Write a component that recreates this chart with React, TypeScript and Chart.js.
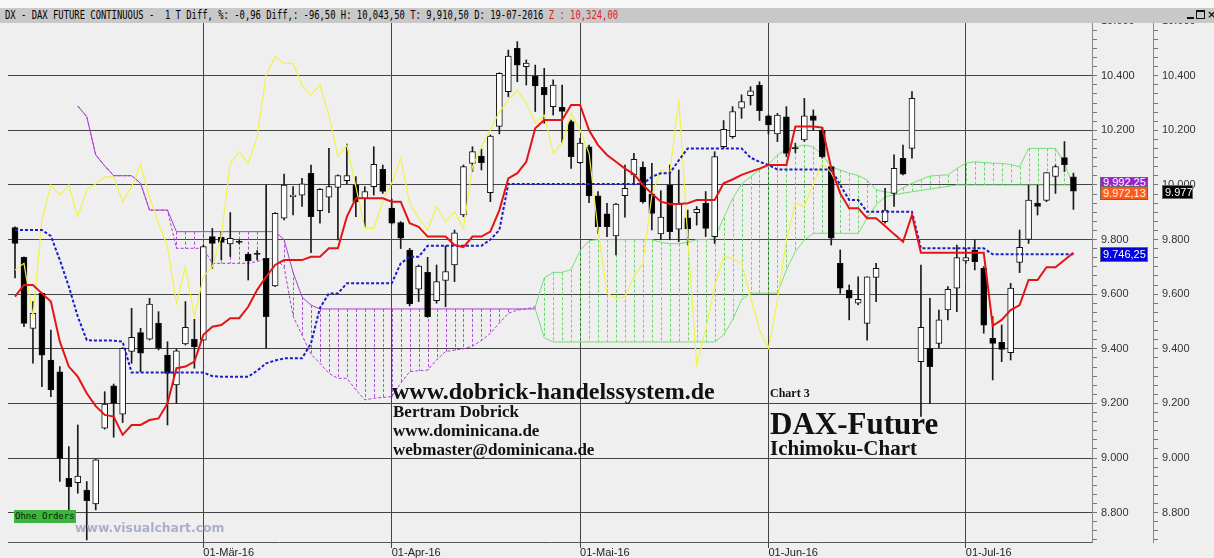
import React, { useEffect, useRef } from 'react';
import { Chart, registerables } from 'chart.js';

Chart.register(...registerables);

// ---- axis labels ----
const dateTickIdx = [21, 42, 63, 84, 106];
const dateTickLabels = ['01-Mär-16', '01-Apr-16', '01-Mai-16', '01-Jun-16', '01-Jul-16'];
const priceTicks = [8800, 9000, 9200, 9400, 9600, 9800, 10000, 10200, 10400, 10600];

// ---- daily candles (index 0 = 01-Feb-16 ... index 118 = 19-Jul-16) ----
const opens = [
  9844, 9735, 9475, 9603, 9359, 9316, 8926, 8910, 8883, 8832,
  9109, 9264, 9161, 9390, 9459, 9435, 9493, 9377, 9268, 9418,
  9435, 9432, 9811, 9808, 9784, 9791, 9747, 9749, 9731, 9630,
  9878, 9957, 9963, 10043, 9906, 9955, 9991, 10016, 10000, 9951,
  9994, 10057, 9915, 9862, 9762, 9618, 9680, 9576, 9650, 9707,
  9890, 10079, 10106, 9972, 10214, 10342, 10500, 10433, 10399, 10358,
  10287, 10284, 10232, 10082, 10140, 9960, 9894, 9813, 9961, 10037,
  10065, 9967, 9821, 10000, 9838, 9880, 9899, 9933, 9811, 10140,
  10177, 10281, 10327, 10366, 10253, 10187, 10250, 10135, 10165, 10253,
  10201, 10067, 9713, 9615, 9567, 9493, 9661, 9866, 9969, 10098,
  10134, 9353, 9402, 9420, 9542, 9622, 9722, 9762, 9695, 9438,
  9424, 9386, 9716, 9801, 9933, 9943, 10031, 10100, 10030,
];
const highs = [
  9847, 9737, 9573, 9605, 9469, 9335, 9042, 9121, 8914, 8995,
  9243, 9271, 9404, 9548, 9475, 9585, 9536, 9426, 9398, 9573,
  9508, 9780, 9841, 9829, 9899, 9799, 9752, 9760, 10000, 9899,
  10040, 9994, 10024, 10073, 9987, 10134, 10037, 10150, 10031, 9994,
  10140, 10073, 9948, 9866, 9768, 9707, 9735, 9707, 9777, 9835,
  10073, 10140, 10131, 10183, 10411, 10494, 10525, 10458, 10439, 10427,
  10385, 10366, 10238, 10171, 10146, 9976, 9933, 9933, 10073, 10116,
  10085, 10079, 9979, 10073, 10055, 9908, 9921, 9976, 10122, 10236,
  10287, 10330, 10360, 10378, 10256, 10262, 10287, 10153, 10317, 10275,
  10211, 10067, 9762, 9634, 9664, 9664, 9713, 9988, 10110, 10146,
  10342, 9707, 9585, 9542, 9628, 9780, 9768, 9799, 9701, 9518,
  9487, 9640, 9835, 10000, 10000, 10045, 10073, 10159, 10043.5,
];
const lows = [
  9660, 9481, 9347, 9261, 9225, 8914, 8810, 8871, 8700, 8810,
  9106, 9076, 9130, 9347, 9316, 9432, 9396, 9121, 9200, 9414,
  9329, 9430, 9695, 9725, 9738, 9784, 9652, 9725, 9402, 9628,
  9872, 9890, 9921, 9752, 9860, 9899, 9799, 10004, 9884, 9847,
  9963, 9969, 9857, 9767, 9557, 9573, 9515, 9567, 9554, 9646,
  9884, 10049, 10055, 9939, 10187, 10323, 10378, 10366, 10269, 10226,
  10256, 10155, 10061, 10079, 9935, 9823, 9811, 9744, 9882, 10000,
  9933, 9835, 9799, 9799, 9792, 9780, 9853, 9811, 9786, 10134,
  10171, 10244, 10293, 10236, 10187, 10159, 10104, 10118, 10159, 10201,
  10098, 9780, 9603, 9506, 9561, 9432, 9573, 9860, 9921, 10037,
  10098, 9152, 9200, 9402, 9506, 9536, 9713, 9689, 9457, 9286,
  9353, 9359, 9679, 9786, 9890, 9939, 9969, 10049, 9910.5,
];
const closes = [
  9786, 9493, 9530, 9377, 9249, 8999, 8895, 8934, 8844, 8993,
  9198, 9200, 9402, 9442, 9384, 9564, 9402, 9310, 9393, 9479,
  9408, 9774, 9786, 9790, 9805, 9790, 9722, 9746, 9518, 9896,
  10000, 9963, 10004, 9884, 9984, 9994, 10034, 10034, 9939, 9976,
  10076, 9976, 9860, 9805, 9564, 9703, 9518, 9646, 9683, 9825,
  10067, 10122, 10082, 10179, 10409, 10472, 10439, 10446, 10363, 10330,
  10366, 10269, 10104, 10153, 9960, 9847, 9847, 9930, 9988, 10094,
  9939, 9896, 9882, 9829, 9930, 9839, 9911, 9841, 10104, 10204,
  10269, 10305, 10345, 10272, 10220, 10256, 10116, 10133, 10253, 10236,
  10104, 9805, 9622, 9585, 9581, 9664, 9695, 9908, 10061, 10040,
  10317, 9479, 9335, 9506, 9618, 9734, 9734, 9719, 9487, 9420,
  9398, 9622, 9772, 9945, 9921, 10045, 10067, 10074, 9977,
];

// ---- Ichimoku lines ----
const tenkan = [
  9591, 9634, 9634, 9603, 9573, 9426, 9335, 9298, 9237, 9190,
  9158, 9152, 9085, 9121, 9121, 9139, 9145, 9200, 9329, 9335,
  9353, 9451, 9481, 9487, 9512, 9512, 9554, 9616, 9664, 9707,
  9725, 9725, 9725, 9737, 9737, 9768, 9768, 9884, 9951, 9951,
  9951, 9951, 9939, 9939, 9860, 9847, 9811, 9811, 9811, 9780,
  9772, 9811, 9811, 9829, 9908, 10024, 10043, 10085, 10208, 10238,
  10238, 10238, 10293, 10293, 10200, 10146, 10110, 10085, 10060, 10040,
  10000, 9969, 9939, 9930, 9930, 9933, 9945, 9945, 9945, 10006,
  10020, 10037, 10049, 10060, 10073, 10073, 10073, 10214, 10214, 10214,
  10210, 10061, 9969, 9915, 9915, 9878, 9878, 9850, 9820, 9792,
  9890, 9752, 9752, 9752, 9752, 9752, 9752, 9752, 9752, 9484,
  9506, 9542, 9560, 9652, 9652, 9699, 9699, 9725, 9752,
];
const kijun = [
  9835, 9835, 9835, 9835, 9813, 9725, 9628, 9518, 9432, 9430,
  9430, 9430, 9426, 9313, 9313, 9313, 9313, 9313, 9313, 9313,
  9313, 9313, 9300, 9298, 9298, 9298, 9298, 9320, 9347, 9357,
  9365, 9365, 9365, 9420, 9550, 9603, 9603, 9640, 9640, 9640,
  9640, 9640, 9640, 9713, 9737, 9737, 9777, 9777, 9777, 9777,
  9777, 9777, 9777, 9800, 9835, 10004, 10004, 10004, 10004, 10004,
  10004, 10004, 10004, 10004, 10004, 10004, 10004, 10004, 10004, 10004,
  10004, 10030, 10043, 10043, 10090, 10134, 10134, 10134, 10134, 10134,
  10134, 10134, 10100, 10085, 10073, 10057, 10057, 10057, 10057, 10057,
  10057, 10057, 10000, 9945, 9945, 9902, 9902, 9902, 9902, 9902,
  9902, 9768, 9768, 9768, 9768, 9768, 9768, 9768, 9768, 9746,
  9746, 9746, 9746, 9746, 9746, 9746, 9746, 9746, 9746,
];
const chikou = [
  9689, 9713, 9518, 9872, 10000, 9963, 10000, 9884, 9982, 10004,
  10030, 10030, 9939, 9994, 10073, 9957, 9860, 9774, 9567, 9701,
  9518, 9664, 9701, 9811, 10079, 10122, 10079, 10177, 10403, 10470,
  10445, 10445, 10366, 10330, 10366, 10256, 10104, 10146, 9994, 9841,
  9841, 9939, 10006, 10098, 9933, 9880, 9835, 9921, 9866, 9902,
  9841, 10067, 10140, 10201, 10268, 10311, 10348, 10299, 10226, 10256,
  10116, 10153, 10262, 10201, 10116, 9835, 9603, 9585, 9591, 9664,
  9713, 9963, 10055, 10043, 10311, 9811, 9341, 9469, 9628, 9737,
  9731, 9713, 9591, 9469, 9402, 9579, 9799, 9933, 9921, 10006,
  10079, 10045, 9977,
];
const spanA = [
  null, null, null, null, null, null, null, 10289, 10250, 10110,
  10070, 10034, 10034, 10034, 10006, 9908, 9908, 9908, 9768, 9768,
  9768, 9768, 9713, 9713, 9713, 9713, 9713, 9720, 9730, 9730,
  9700, 9520, 9450, 9380, 9347, 9310, 9292, 9292, 9250, 9213,
  9219, 9222, 9225, 9274, 9316, 9320, 9322, 9360, 9390, 9395,
  9400, 9410, 9430, 9457, 9494, 9530, 9542, 9546, 9554, 9660,
  9680, 9680, 9690, 9760, 9796, 9800, 9800, 9800, 9800, 9800,
  9800, 9800, 9790, 9785, 9785, 9790, 9800, 9800, 9803, 9880,
  9950, 10004, 10030, 10055, 10075, 10110, 10130, 10140, 10146, 10140,
  10110, 10067, 10055, 10043, 10035, 10018, 9982, 9975, 9969, 9990,
  10006, 10020, 10033, 10035, 10037, 10060, 10080, 10085, 10082, 10080,
  10079, 10075, 10067, 10134, 10134, 10134, 10134, 10079, 9992,
];
const spanB = [
  null, null, null, null, null, null, null, 10289, 10250, 10110,
  10070, 10034, 10034, 10034, 10006, 9908, 9908, 9908, 9829, 9829,
  9829, 9829, 9829, 9829, 9829, 9829, 9829, 9829, 9829, 9829,
  9800, 9680, 9590, 9560, 9546, 9546, 9546, 9546, 9546, 9546,
  9546, 9546, 9546, 9546, 9546, 9546, 9546, 9546, 9546, 9546,
  9546, 9546, 9546, 9546, 9546, 9546, 9546, 9546, 9546, 9440,
  9425, 9425, 9425, 9425, 9425, 9425, 9425, 9425, 9425, 9425,
  9425, 9425, 9425, 9425, 9425, 9425, 9425, 9425, 9425, 9451,
  9506, 9580, 9604, 9604, 9604, 9604, 9689, 9756, 9799, 9823,
  9823, 9823, 9823, 9823, 9823, 9878, 9927, 9957, 9963, 9970,
  9975, 9980, 9985, 9990, 9995, 10000, 10000, 10000, 10000, 10000,
  10000, 10000, 10000, 10000, 10000, 10000, 10000, 10000, 10000,
];

// ---- styles ----
const PURPLE_LINE = '#a83fcc';
const GREEN_LINE = '#74e074';
const PURPLE_HATCH = '#b24fd8';
const GREEN_HATCH = '#66d866';
const GRID = '#444444';
const TICK_FONT = { family: '"Liberation Sans", Arial, sans-serif', size: 11 };

const isBear = (i: number) => spanA[i] != null && spanB[i] != null && (spanB[i] as number) >= (spanA[i] as number);
const isMajor = (v: number) => Math.abs(v - Math.round(v / 200) * 200) < 0.5;
const fmtPrice = (v: number) => {
  if (!isMajor(v)) return '';
  const r = Math.round(v);
  return `${Math.floor(r / 1000)}.${String(r % 1000).padStart(3, '0')}`;
};
const buildPriceTicks = (s: any) => {
  const step = (priceTicks[1] - priceTicks[0]) / 6;
  const out: any[] = [];
  for (let v = priceTicks[0] - 3 * step; v <= priceTicks[priceTicks.length - 1] + 0.01; v += step) {
    if (v >= s.min - 0.01 && v <= s.max + 0.01) out.push({ value: v });
  }
  s.ticks = out;
};

const hatchPlugin = {
  id: 'cloudHatch',
  beforeDatasetsDraw(chart: any) {
    const { ctx, chartArea, scales } = chart;
    const x = scales.x;
    const y = scales.y;
    ctx.save();
    ctx.beginPath();
    ctx.rect(chartArea.left, chartArea.top, chartArea.width, chartArea.height);
    ctx.clip();
    ctx.lineWidth = 1;
    ctx.setLineDash([3, 2]);
    for (let i = 0; i < spanA.length; i++) {
      const a = spanA[i];
      const b = spanB[i];
      if (a == null || b == null || a === b) continue;
      const px = Math.round(x.getPixelForValue(i)) + 0.5;
      ctx.strokeStyle = b >= a ? PURPLE_HATCH : GREEN_HATCH;
      ctx.beginPath();
      ctx.moveTo(px, y.getPixelForValue(Math.max(a, b)));
      ctx.lineTo(px, y.getPixelForValue(Math.min(a, b)));
      ctx.stroke();
    }
    ctx.restore();
  },
};

const yAxis = (onChart: boolean) => ({
  type: 'linear',
  position: 'right',
  min: 8692.5,
  max: 10600.5,
  afterBuildTicks: buildPriceTicks,
  afterFit: (s: any) => {
    s.width = 61;
  },
  ticks: {
    autoSkip: false,
    callback: (v: any) => fmtPrice(Number(v)),
    color: '#333',
    font: TICK_FONT,
    padding: 4,
  },
  grid: {
    drawOnChartArea: onChart,
    offset: false,
    color: (c: any) => (c.tick && isMajor(c.tick.value) ? GRID : 'rgba(0,0,0,0)'),
    tickColor: '#777',
    tickLength: 5,
    lineWidth: 1,
  },
  border: { display: true, color: '#888' },
});

export default function App() {
  const ref = useRef<HTMLCanvasElement>(null);

  useEffect(() => {
    const idx = closes.map((_, i) => i);
    const chart = new Chart(ref.current as HTMLCanvasElement, {
      type: 'line',
      data: {
        datasets: [
          {
            type: 'line',
            label: 'Senkou Span B',
            data: spanB.map((v, i) => ({ x: i, y: v })),
            borderColor: GREEN_LINE,
            borderWidth: 1,
            pointRadius: 0,
            segment: {
              borderColor: (c: any) => (isBear(c.p0DataIndex) ? PURPLE_LINE : GREEN_LINE),
            },
            order: 10,
          },
          {
            type: 'line',
            label: 'Senkou Span A',
            data: spanA.map((v, i) => ({ x: i, y: v })),
            borderColor: GREEN_LINE,
            borderWidth: 1,
            pointRadius: 0,
            segment: {
              borderColor: (c: any) => (isBear(c.p0DataIndex) ? PURPLE_LINE : GREEN_LINE),
              borderDash: (c: any) => (isBear(c.p0DataIndex) ? [3, 2] : []),
            },
            order: 9,
          },
          {
            type: 'bar',
            label: 'wick',
            data: idx.map((i) => ({ x: i, y: [lows[i], highs[i]] })),
            backgroundColor: '#1a1a1a',
            borderWidth: 0,
            barThickness: 1,
            grouped: false,
            order: 6,
          },
          {
            type: 'bar',
            label: 'body',
            data: idx.map((i) => ({ x: i, y: [opens[i], closes[i]] })),
            backgroundColor: idx.map((i) => (closes[i] >= opens[i] ? '#ffffff' : '#000000')),
            borderColor: '#111',
            borderWidth: 1,
            borderSkipped: false,
            barThickness: 6,
            minBarLength: 1,
            grouped: false,
            order: 5,
          },
          {
            type: 'line',
            label: 'Chikou Span',
            data: chikou.map((v, i) => ({ x: i, y: v })),
            borderColor: '#f2f24a',
            borderWidth: 1.2,
            pointRadius: 0,
            order: 3,
          },
          {
            type: 'line',
            label: 'Kijun-sen',
            data: kijun.map((v, i) => ({ x: i, y: v })),
            borderColor: '#1c1cc8',
            borderWidth: 2,
            borderDash: [3, 2],
            pointRadius: 0,
            order: 2,
          },
          {
            type: 'line',
            label: 'Tenkan-sen',
            data: tenkan.map((v, i) => ({ x: i, y: v })),
            borderColor: '#e51414',
            borderWidth: 2,
            pointRadius: 0,
            order: 1,
          },
        ],
      } as any,
      options: {
        responsive: false,
        devicePixelRatio: 1,
        animation: false,
        events: [],
        layout: { padding: { left: 8, top: 21, right: 0, bottom: 0 } },
        plugins: { legend: { display: false }, tooltip: { enabled: false } },
        scales: {
          x: {
            type: 'linear',
            min: -0.78,
            max: 120.07,
            offset: false,
            afterBuildTicks: (s: any) => {
              s.ticks = dateTickIdx.map((v) => ({ value: v }));
            },
            afterFit: (s: any) => {
              s.height = 16;
            },
            ticks: {
              autoSkip: false,
              maxRotation: 0,
              minRotation: 0,
              align: 'start',
              padding: -2,
              color: '#222',
              font: TICK_FONT,
              callback: (_v: any, i: number) => dateTickLabels[i],
            },
            grid: { offset: false, color: GRID, tickColor: GRID, tickLength: 6, lineWidth: 1 },
            border: { display: true, color: '#555' },
          },
          y: yAxis(true),
          y2: yAxis(false),
        },
      } as any,
      plugins: [hatchPlugin],
    });
    return () => chart.destroy();
  }, []);

  const serif = '"Liberation Serif", "Times New Roman", serif';
  const txt = (left: number, top: number, size: number, s: string) => (
    <div
      style={{
        position: 'absolute',
        left,
        top,
        fontFamily: serif,
        fontWeight: 'bold',
        fontSize: size,
        lineHeight: 1,
        color: '#111',
        whiteSpace: 'nowrap',
      }}
    >
      {s}
    </div>
  );
  const box = (left: number, top: number, w: number, h: number, bg: string, fg: string, s: string) => (
    <div
      style={{
        position: 'absolute',
        left,
        top,
        width: w,
        height: h,
        background: bg,
        color: fg,
        fontFamily: '"Liberation Sans", Arial, sans-serif',
        fontSize: 11,
        lineHeight: `${h - 2}px`,
        paddingLeft: 2,
        boxSizing: 'border-box',
        border: '1px solid #666',
        overflow: 'hidden',
        whiteSpace: 'nowrap',
      }}
    >
      {s}
    </div>
  );

  return (
    <div
      style={{
        position: 'absolute',
        left: 0,
        top: 0,
        width: 1214,
        height: 558,
        background: '#efefef',
        overflow: 'hidden',
      }}
    >
      <canvas ref={ref} width={1214} height={558} style={{ position: 'absolute', left: 0, top: 0 }} />
      <div style={{ position: 'absolute', left: 0, top: 0, width: 1214, height: 8, background: '#f7f7f7' }} />
      <div style={{ position: 'absolute', left: 0, top: 8, width: 1214, height: 15, background: '#c8c8c8' }}>
        <div
          style={{
            position: 'absolute',
            left: 5,
            top: 1,
            fontFamily: '"DejaVu Sans Mono", monospace',
            fontSize: 11.5,
            lineHeight: '13px',
            whiteSpace: 'pre',
            color: '#000',
            transform: 'scaleX(0.77)',
            transformOrigin: 'left top',
          }}
        >
          {'DX - DAX FUTURE CONTINUOUS -  1 T Diff, %: -0,96 Diff,: -96,50 H: 10,043,50 T: 9,910,50 D: 19-07-2016 '}
          <span style={{ color: '#e02020' }}>{'Z : 10,324,00'}</span>
        </div>
        <div
          style={{
            position: 'absolute',
            left: 1187,
            top: 2,
            display: 'flex',
            gap: 2,
          }}
        >
          <div style={{ width: 7, height: 9, borderBottom: '2px solid #111', boxSizing: 'border-box' }} />
          <div style={{ width: 9, height: 9, border: '1px solid #111', borderTopWidth: 2, boxSizing: 'border-box' }} />
          <div
            style={{
              width: 9,
              height: 10,
              fontFamily: '"DejaVu Sans", sans-serif',
              fontWeight: 'bold',
              fontSize: 11,
              lineHeight: '10px',
              color: '#111',
            }}
          >
            ×
          </div>
        </div>
      </div>

      {box(1100, 177, 48, 10, '#9a1fcf', '#fff', '9.992,25')}
      {box(1100, 186, 48, 14, '#ff5a1a', '#fff4e8', '9.972,13')}
      {box(1162, 185, 31, 14, '#000', '#fff', '9.977')}
      {box(1100, 247, 48, 15, '#0000e0', '#fff', '9.746,25')}

      <div
        style={{
          position: 'absolute',
          left: 14,
          top: 510,
          width: 62,
          height: 13,
          background: '#3cb53c',
          color: '#0b200b',
          fontFamily: '"DejaVu Sans Mono", monospace',
          fontSize: 9,
          lineHeight: '13px',
          paddingLeft: 1,
          boxSizing: 'border-box',
          whiteSpace: 'nowrap',
        }}
      >
        Ohne Orders
      </div>
      <div
        style={{
          position: 'absolute',
          left: 75,
          top: 522,
          fontFamily: '"DejaVu Sans", Verdana, sans-serif',
          fontWeight: 'bold',
          fontSize: 12.4,
          lineHeight: 1,
          color: '#aab0cc',
          whiteSpace: 'nowrap',
        }}
      >
        www.visualchart.com
      </div>

      {txt(392, 379, 24, 'www.dobrick-handelssystem.de')}
      {txt(393, 403, 17, 'Bertram Dobrick')}
      {txt(393, 422, 17, 'www.dominicana.de')}
      {txt(393, 441, 17, 'webmaster@dominicana.de')}
      {txt(770, 387, 12, 'Chart 3')}
      {txt(770, 408, 31, 'DAX-Future')}
      {txt(770, 438, 21, 'Ichimoku-Chart')}
    </div>
  );
}
